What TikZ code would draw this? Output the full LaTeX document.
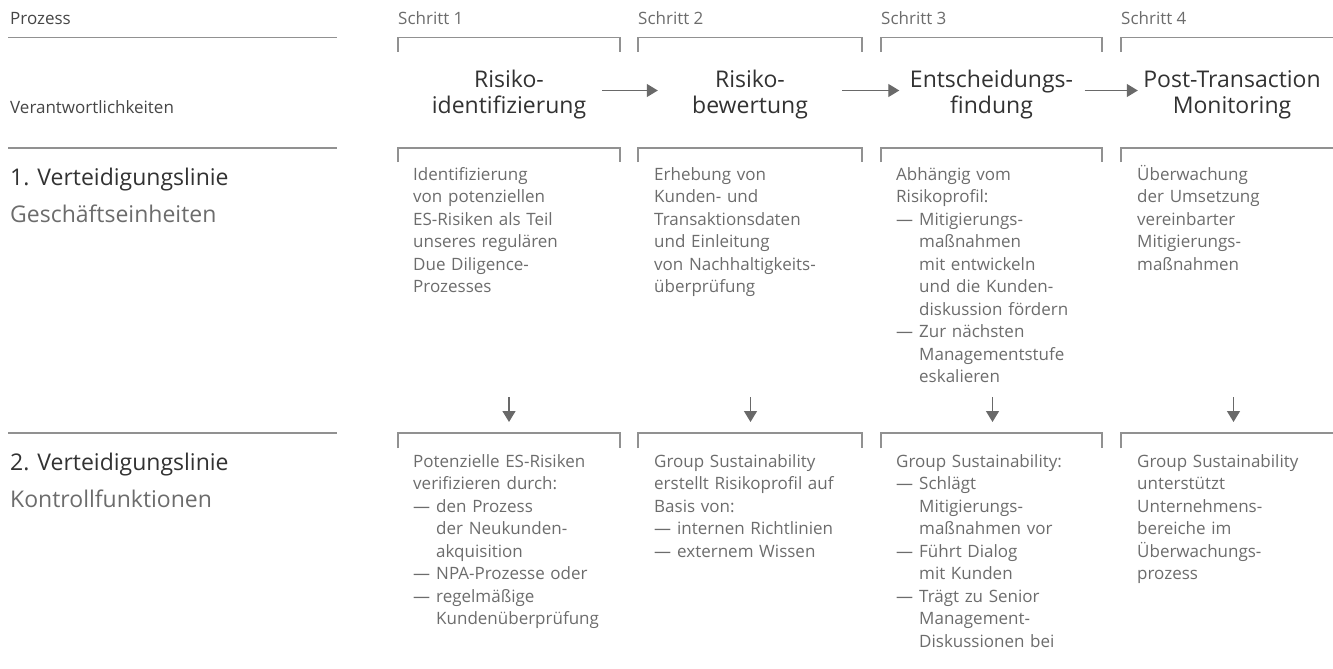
\documentclass[tikz,border=0pt]{standalone}
\usepackage{fontspec}
\setmainfont{Open Sans}
\usetikzlibrary{arrows.meta}
\definecolor{LineClr}{RGB}{145,145,145}
\definecolor{ArrowClr}{RGB}{105,105,105}
\definecolor{HeadClr}{RGB}{50,50,50}
\definecolor{LabelClr}{RGB}{70,70,70}
\definecolor{BodyClr}{RGB}{108,108,108}
\newcommand\ListDash{\makebox[23pt][l]{—}}
\newcommand\ListInd{\hspace*{23pt}}
\tikzset{
  rule/.style={LineClr,line width=1.2pt},
  bracket/.style={LineClr,line width=1.2pt},
  flow/.style={ArrowClr,line width=1.3pt,-{Triangle[length=11pt,width=13pt]}},
  lbl/.style={inner sep=0,anchor=base west,LabelClr,font=\fontsize{17}{22.5}\selectfont},
  steplbl/.style={lbl,BodyClr},
  bigline/.style={inner sep=0,anchor=base west,HeadClr,font=\fontsize{23}{25}\selectfont},
  head/.style={inner sep=0,anchor=base,text width=222pt,align=center,HeadClr,font=\fontsize{23}{25}\selectfont},
  body/.style={inner sep=0,anchor=base west,text width=230pt,align=left,BodyClr,font=\fontsize{17}{22.5}\selectfont}
}
\begin{document}
\begin{tikzpicture}[x=1pt,y=-1pt]
\clip (0,0) rectangle (1333,669);

% left column
\node[lbl] (prozess) at (10,25) {Prozess};
\node[lbl] (verant) at (10,113) {Verantwortlichkeiten};
\node[bigline] (vl1) at (10,185) {1. Verteidigungslinie};
\node[bigline,BodyClr] (ge1) at (10,222) {Geschäftseinheiten};
\node[bigline] (vl2) at (10,470) {2. Verteidigungslinie};
\node[bigline,BodyClr] (kf2) at (10,507) {Kontrollfunktionen};

\draw[rule] (8,37.5) -- (337,37.5);
\draw[rule] (8,148) -- (337,148);
\draw[rule] (8,433) -- (337,433);

% brackets
\draw[bracket] (398,52) |- (620,37.5) -- (620,52);
\draw[bracket] (638,52) |- (862,37.5) -- (862,52);
\draw[bracket] (881,52) |- (1102,37.5) -- (1102,52);
\draw[bracket] (1121,52) |- (1343,37.5) -- (1343,52);

\draw[bracket] (398,162) |- (620,148) -- (620,162);
\draw[bracket] (638,162) |- (862,148) -- (862,162);
\draw[bracket] (881,162) |- (1102,148) -- (1102,162);
\draw[bracket] (1121,162) |- (1343,148) -- (1343,162);

\draw[bracket] (398,448) |- (620,433) -- (620,448);
\draw[bracket] (638,448) |- (862,433) -- (862,448);
\draw[bracket] (881,448) |- (1102,433) -- (1102,448);
\draw[bracket] (1121,448) |- (1343,433) -- (1343,448);

% steps
\node[steplbl] (s1) at (398,25) {Schritt 1};
\node[steplbl] (s2) at (638,25) {Schritt 2};
\node[steplbl] (s3) at (881,25) {Schritt 3};
\node[steplbl] (s4) at (1121,25) {Schritt 4};

\node[head] (h1) at (509,88) {Risiko-\\identifizierung};
\node[head] (h2) at (750,88) {Risiko-\\bewertung};
\node[head] (h3) at (991.5,88) {Entscheidungs-\\findung};
\node[head] (h4) at (1232,88) {Post-Transaction\\Monitoring};

\draw[flow] ([xshift=-18pt,yshift=-2.5pt]h1.base east) -- ([xshift=19pt,yshift=-2.5pt]h2.base west);
\draw[flow] ([xshift=-19pt,yshift=-2.5pt]h2.base east) -- ([xshift=19pt,yshift=-2.5pt]h3.base west);
\draw[flow] ([xshift=-18pt,yshift=-2.5pt]h3.base east) -- ([xshift=17pt,yshift=-2.5pt]h4.base west);

% 1. Verteidigungslinie
\node[body] (b1) at (413,180) {Identifizierung\\von potenziellen\\ES-Risiken als Teil\\unseres regulären\\Due Diligence-\\Prozesses};
\node[body] (b2) at (654,180) {Erhebung von\\Kunden- und\\Transaktionsdaten\\und Einleitung\\von Nachhaltigkeits-\\überprüfung};
\node[body] (b3) at (896,180) {Abhängig vom\\Risikoprofil:\\\ListDash Mitigierungs-\\\ListInd maßnahmen\\\ListInd mit entwickeln\\\ListInd und die Kunden-\\\ListInd diskussion fördern\\\ListDash Zur nächsten\\\ListInd Managementstufe\\\ListInd eskalieren};
\node[body] (b4) at (1137,180) {Überwachung\\der Umsetzung\\vereinbarter\\Mitigierungs-\\maßnahmen};

% 2. Verteidigungslinie
\node[body] (k1) at (413,467) {Potenzielle ES-Risiken\\verifizieren durch:\\\ListDash den Prozess\\\ListInd der Neukunden-\\\ListInd akquisition\\\ListDash NPA-Prozesse oder\\\ListDash regelmäßige\\\ListInd Kundenüberprüfung};
\node[body] (k2) at (654,467) {Group Sustainability\\erstellt Risikoprofil auf\\Basis von:\\\ListDash internen Richtlinien\\\ListDash externem Wissen};
\node[body] (k3) at (896,467) {Group Sustainability:\\\ListDash Schlägt\\\ListInd Mitigierungs-\\\ListInd maßnahmen vor\\\ListDash Führt Dialog\\\ListInd mit Kunden\\\ListDash Trägt zu Senior\\\ListInd Management-\\\ListInd Diskussionen bei};
\node[body] (k4) at (1137,467) {Group Sustainability\\unterstützt\\Unternehmens-\\bereiche im\\Überwachungs-\\prozess};

\coordinate (a1) at (509,397);
\coordinate (a2) at (750.5,397);
\coordinate (a3) at (992.5,397);
\coordinate (a4) at (1233.5,397);
\coordinate (z1) at (509,422);
\coordinate (z2) at (750.5,422);
\coordinate (z3) at (992.5,422);
\coordinate (z4) at (1233.5,422);
\draw[flow] (a1) -- (z1);
\draw[flow] (a2) -- (z2);
\draw[flow] (a3) -- (z3);
\draw[flow] (a4) -- (z4);

\end{tikzpicture}
\end{document}
